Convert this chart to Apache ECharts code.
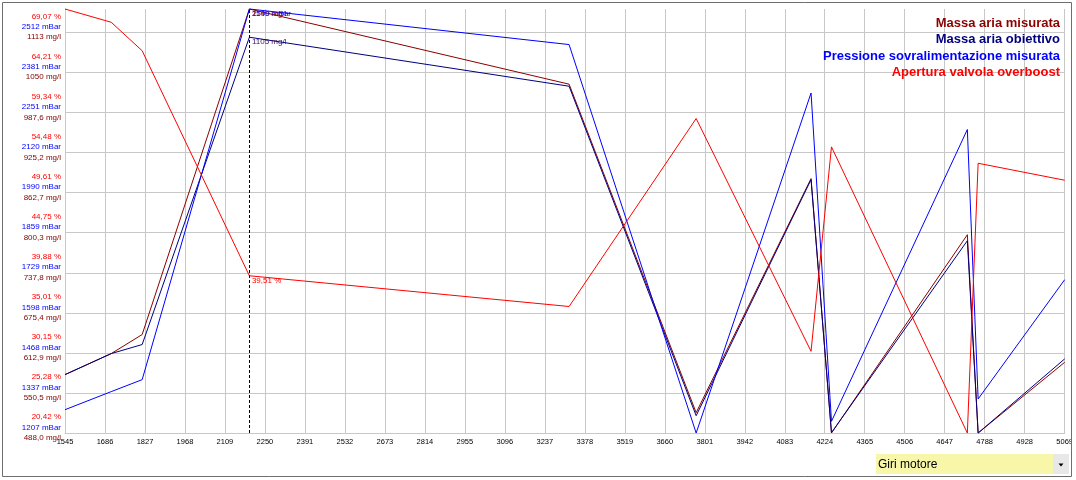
<!DOCTYPE html>
<html><head><meta charset="utf-8">
<script src="https://cdn.jsdelivr.net/npm/echarts@6/dist/echarts.min.js"></script>
<style>html,body{margin:0;padding:0;background:#fff}#c{width:1076px;height:480px}</style>
</head><body><div id="c"></div>
<script>
// ---- data ----
const rpm            = [1545, 1708, 1817, 2195, 3322, 3770, 4175, 4247, 4726, 4764, 5069];
const massaMisurata  = [579, 611.8, 641.5, 1149, 1031.8, 519.7, 884.6, 488, 797.1, 488, 598.2];
const massaObiettivo = [579, 611.8, 625.9, 1105, 1028.6, 515, 883, 488.5, 787.8, 488, 603.5];
const pressione      = [1283, 1342, 1381, 2590, 2474, 1207, 2316, 1245, 2197, 1318, 1707];
const apertura       = [71.9, 70.29, 66.83, 39.51, 35.78, 58.6, 30.34, 55.16, 20.42, 53.17, 51.11];

const seriesNames = ['Massa aria misurata', 'Massa aria obiettivo', 'Pressione sovralimentazione misurata', 'Apertura valvola overboost'];
const seriesColors = ['#8b0000', '#000080', '#0000ff', '#ff0000'];

const xTicks = ['1545','1686','1827','1968','2109','2250','2391','2532','2673','2814','2955','3096','3237','3378','3519','3660','3801','3942','4083','4224','4365','4506','4647','4788','4928','5069'];
const xStep = 140.96;
const pctTicks  = ['20,42 %','25,28 %','30,15 %','35,01 %','39,88 %','44,75 %','49,61 %','54,48 %','59,34 %','64,21 %','69,07 %'];
const pctStep = 4.865;
const mbarTicks = ['1207 mBar','1337 mBar','1468 mBar','1598 mBar','1729 mBar','1859 mBar','1990 mBar','2120 mBar','2251 mBar','2381 mBar','2512 mBar'];
const mbarStep = 130.5;
const mglTicks  = ['488,0 mg/l','550,5 mg/l','612,9 mg/l','675,4 mg/l','737,8 mg/l','800,3 mg/l','862,7 mg/l','925,2 mg/l','987,6 mg/l','1050 mg/l','1113 mg/l'];
const mglStep = 62.45;
const cursorIndex = 3;
const dropdownLabel = 'Giri motore';

// ---- chart ----
const FONT = 'Liberation Sans, Arial, sans-serif';
const grey = '#c8c8c8';
const chart = echarts.init(document.getElementById('c'), null, {renderer: 'canvas'});

function pairs(vals) { return rpm.map((x, i) => [x, vals[i]]); }
function comma(v, d) { return v.toFixed(d).replace('.', ','); }
function cursorMark(vals, text, color) {
  return {
    symbol: 'circle', symbolSize: 1, silent: true, animation: false,
    itemStyle: {color: 'rgba(0,0,0,0)'},
    data: [{
      coord: [rpm[cursorIndex], vals[cursorIndex]],
      label: {show: true, position: 'right', distance: 2, offset: [0, 5], formatter: text,
              color: color, fontSize: 8, fontFamily: FONT}
    }]
  };
}

const mglMin = Math.min(...massaMisurata, ...massaObiettivo);
const mglMax = Math.max(...massaMisurata, ...massaObiettivo);

const option = {
  animation: false,
  backgroundColor: '#fff',
  grid: {left: 65, right: 10, top: 9, bottom: 47, containLabel: false},
  legend: {
    orient: 'vertical', right: 6, top: 10, align: 'right',
    itemWidth: 0, itemHeight: 0, itemGap: 0, selectedMode: false,
    textStyle: {fontSize: 13, fontWeight: 'bold', fontFamily: FONT, lineHeight: 16.4},
    data: seriesNames.map((n, i) => ({name: n, icon: 'rect', textStyle: {color: seriesColors[i]}}))
  },
  xAxis: {
    type: 'value', min: rpm[0], max: rpm[rpm.length - 1], interval: xStep,
    axisLine: {show: true, lineStyle: {color: grey}},
    axisTick: {show: false},
    splitLine: {show: true, lineStyle: {color: grey, width: 1}},
    axisLabel: {
      margin: 5, fontSize: 7.5, fontFamily: FONT, color: '#000',
      showMinLabel: true, showMaxLabel: true,
      formatter: (v, i) => (i < xTicks.length ? xTicks[i] : '')
    }
  },
  yAxis: [
    {
      type: 'value', position: 'left', min: mglMin, max: mglMax, interval: mglStep,
      axisLine: {show: true, lineStyle: {color: grey}},
      axisTick: {show: false},
      splitLine: {show: true, showMaxLine: false, lineStyle: {color: grey, width: 1}},
      axisLabel: {
        margin: 4, fontFamily: FONT, padding: [0, 0, 11, 0],
        showMinLabel: true, showMaxLabel: true,
        formatter: (v, i) => (i < mglTicks.length ? `{p|${pctTicks[i]}}\n{b|${mbarTicks[i]}}\n{m|${mglTicks[i]}}` : ''),
        rich: {
          p: {color: '#ff0000', fontSize: 8, lineHeight: 10.3, fontFamily: FONT, align: 'right'},
          b: {color: '#0000ff', fontSize: 8, lineHeight: 10.3, fontFamily: FONT, align: 'right'},
          m: {color: '#800000', fontSize: 8, lineHeight: 10.3, fontFamily: FONT, align: 'right'}
        }
      }
    },
    {type: 'value', show: false, min: Math.min(...pressione), max: Math.max(...pressione), interval: mbarStep, splitLine: {show: false}},
    {type: 'value', show: false, min: Math.min(...apertura), max: Math.max(...apertura), interval: pctStep, splitLine: {show: false}}
  ],
  series: [
    {name: seriesNames[0], type: 'line', yAxisIndex: 0, data: pairs(massaMisurata), symbol: 'none', clip: false,
     lineStyle: {color: seriesColors[0], width: 1}, itemStyle: {color: seriesColors[0]},
     markPoint: cursorMark(massaMisurata, Math.round(massaMisurata[cursorIndex]) + ' mg/l', seriesColors[0])},
    {name: seriesNames[1], type: 'line', yAxisIndex: 0, data: pairs(massaObiettivo), symbol: 'none', clip: false,
     lineStyle: {color: seriesColors[1], width: 1}, itemStyle: {color: seriesColors[1]},
     markPoint: cursorMark(massaObiettivo, Math.round(massaObiettivo[cursorIndex]) + ' mg/l', '#3a1060')},
    {name: seriesNames[2], type: 'line', yAxisIndex: 1, data: pairs(pressione), symbol: 'none', clip: false,
     lineStyle: {color: seriesColors[2], width: 1}, itemStyle: {color: seriesColors[2]},
     markPoint: cursorMark(pressione, Math.round(pressione[cursorIndex]) + ' mBar', seriesColors[2])},
    {name: seriesNames[3], type: 'line', yAxisIndex: 2, data: pairs(apertura), symbol: 'none', clip: false,
     lineStyle: {color: seriesColors[3], width: 1}, itemStyle: {color: seriesColors[3]},
     markPoint: cursorMark(apertura, comma(apertura[cursorIndex], 2) + ' %', seriesColors[3]),
     markLine: {silent: true, symbol: ['none', 'none'], animation: false, label: {show: false},
                lineStyle: {color: '#000', type: [3, 2], width: 1},
                data: [{xAxis: rpm[cursorIndex]}]}}
  ],
  graphic: [
    {type: 'rect', z: 100, shape: {x: 1072, y: 0, width: 4, height: 480}, style: {fill: '#fff'}, silent: true},
    {type: 'rect', z: 101, shape: {x: 2.5, y: 2.5, width: 1069, height: 474}, style: {fill: 'none', stroke: '#6e6e6e', lineWidth: 1}, silent: true},
    {type: 'rect', z: 101, shape: {x: 876, y: 454, width: 177, height: 20}, style: {fill: '#f8f7a9'}, silent: true},
    {type: 'rect', z: 101, shape: {x: 1053, y: 454, width: 16, height: 20}, style: {fill: '#e8e8e8'}, silent: true},
    {type: 'polygon', z: 102, shape: {points: [[1058.5, 463.5], [1063.5, 463.5], [1061, 466.5]]}, style: {fill: '#000'}, silent: true},
    {type: 'text', z: 102, x: 878, y: 464.5, style: {text: dropdownLabel, fill: '#000', font: '12px ' + FONT, textVerticalAlign: 'middle', verticalAlign: 'middle'}, silent: true}
  ]
};
chart.setOption(option);
</script>
</body></html>
